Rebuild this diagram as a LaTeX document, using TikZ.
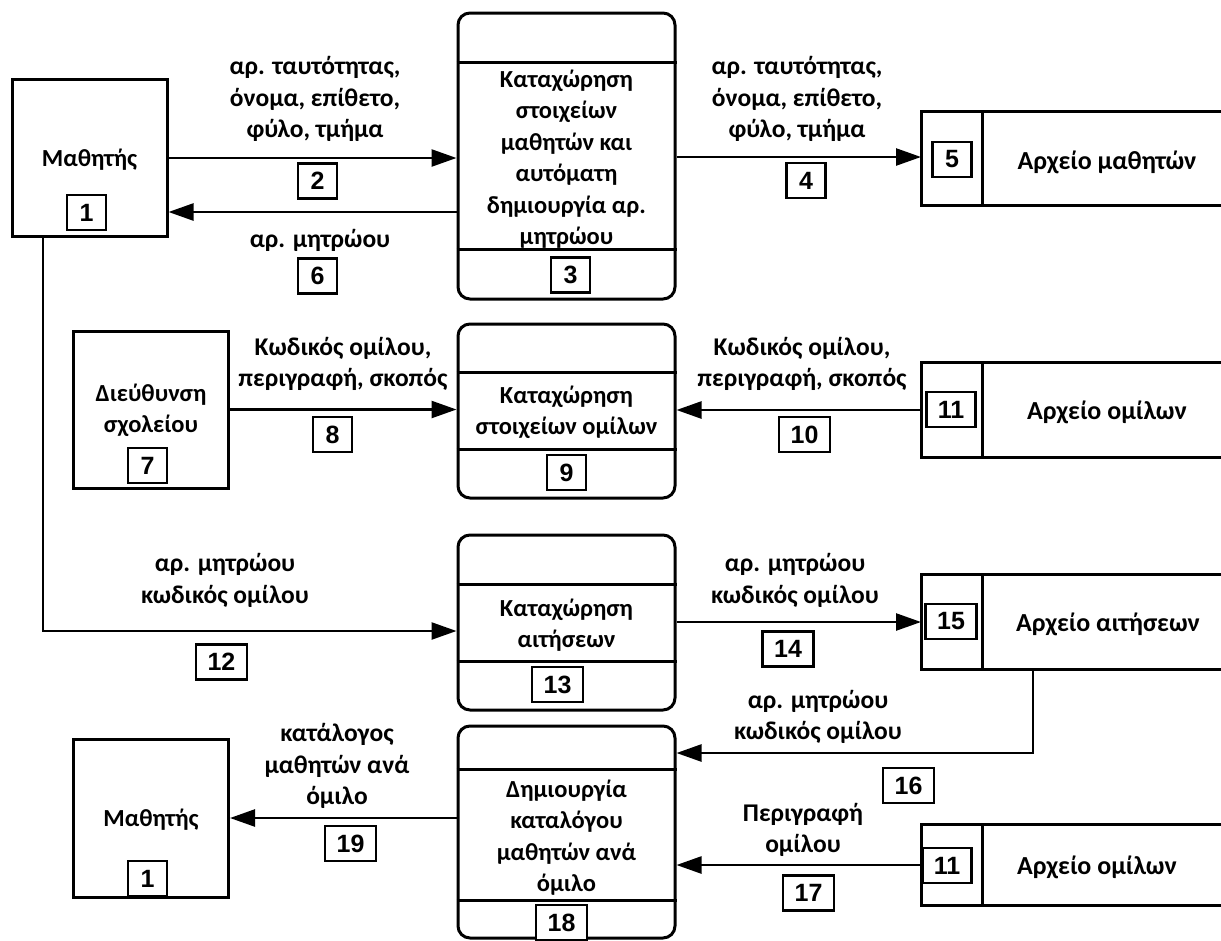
\documentclass[tikz,border=0pt]{standalone}
\usepackage{fontspec}
\setmainfont{Carlito}
\newfontfamily\numfont{Liberation Sans}
\usetikzlibrary{arrows.meta,calc}
\begin{document}
\begin{tikzpicture}[x=1pt,y=-1pt,
  ent/.style={draw,line width=3pt,minimum width=155pt,minimum height=157pt,inner sep=0pt},
  proc/.style={draw,line width=3pt,rounded corners=12pt,minimum width=217pt,inner sep=0pt},
  store/.style={minimum width=300pt,inner sep=0pt,anchor=west},
  divline/.style={line width=3pt},
  numbox/.style={draw,line width=2.5pt,font=\numfont\bfseries\fontsize{25}{25}\selectfont,minimum width=39pt,minimum height=35pt,inner xsep=11.5pt,inner ysep=0pt,fill=white},
  lbl/.style={font=\bfseries\fontsize{25.5}{31.5}\selectfont,align=center,inner sep=0pt},
  plbl/.style={font=\bfseries\fontsize{24.5}{31.5}\selectfont,align=center,inner sep=0pt},
  slbl/.style={font=\bfseries\fontsize{26}{31.5}\selectfont,align=center,inner sep=0pt},
  flow/.style={line width=2.5pt,-{Triangle[length=25pt,width=17pt]}},
  line/.style={line width=2.5pt}
]
\useasboundingbox (0,0) rectangle (1221,940);

% external entities
\node[ent] (e1) at (89.5,158) {};
\node[plbl] (t1) at (89.5,160) {Μαθητής};
\node[numbox] (n1) at (86.5,212.5) {1};

\node[ent] (e7) at (151,409.5) {};
\node[plbl] (t7) at (151,410.5) {Διεύθυνση\\σχολείου};
\node[numbox] (n7) at (147.5,465.5) {7};

\node[ent,minimum height=158pt] (e1b) at (151,818) {};
\node[plbl] (t1b) at (151,820) {Μαθητής};
\node[numbox] (n1b) at (147.5,878.5) {1};

% processes
\node[proc,minimum height=286pt] (p3) at (566.5,156) {};
\draw[divline] (p3.west |- 0,62) -- (p3.east |- 0,62);
\draw[divline] (p3.west |- 0,249) -- (p3.east |- 0,249);
\node[plbl] (t3) at (566.5,159) {Καταχώρηση\\στοιχείων\\μαθητών και\\αυτόματη\\δημιουργία αρ.\\μητρώου};
\node[numbox] (n3) at (570.5,275) {3};

\node[proc,minimum height=174pt] (p9) at (566.5,411) {};
\draw[divline] (p9.west |- 0,372) -- (p9.east |- 0,372);
\draw[divline] (p9.west |- 0,449) -- (p9.east |- 0,449);
\node[plbl] (t9) at (566.5,412.5) {Καταχώρηση\\στοιχείων ομίλων};
\node[numbox] (n9) at (566.5,472.5) {9};

\node[proc,minimum height=175pt] (p13) at (566.5,622.5) {};
\draw[divline] (p13.west |- 0,584) -- (p13.east |- 0,584);
\draw[divline] (p13.west |- 0,661) -- (p13.east |- 0,661);
\node[plbl] (t13) at (566.5,625) {Καταχώρηση\\αιτήσεων};
\node[numbox] (n13) at (557.5,684.5) {13};

\node[proc,minimum height=212pt] (p18) at (566.5,832) {};
\draw[divline] (p18.west |- 0,769) -- (p18.east |- 0,769);
\draw[divline] (p18.west |- 0,900) -- (p18.east |- 0,900);
\node[plbl] (t18) at (566.5,837.5) {Δημιουργία\\καταλόγου\\μαθητών ανά\\όμιλο};
\node[numbox] (n18) at (561.5,922.5) {18};

% data stores
\foreach \nm/\yc/\h in {s5/158.5/93, s11/410/94, s15/622/94, s11b/865/80} {
  \node[store,minimum height=\h pt] (\nm) at (921,\yc) {};
  \draw[divline] (\nm.north east) -- (\nm.north west) -- (\nm.south west) -- (\nm.south east);
  \draw[divline] (\nm.north west) ++(61,0) coordinate (\nm d) -- (\nm d |- \nm.south);
}
\node[numbox] (n5) at (952,159.5) {5};
\node[slbl] (ts5) at (1107,162) {Αρχείο μαθητών};
\node[numbox] (n11) at (951,409.5) {11};
\node[slbl] (ts11) at (1107,412) {Αρχείο ομίλων};
\node[numbox] (n15) at (951,621.5) {15};
\node[slbl] (ts15) at (1108,624) {Αρχείο αιτήσεων};
\node[numbox] (n11b) at (947,865.5) {11};
\node[slbl] (ts11b) at (1097,867) {Αρχείο ομίλων};

% flows
\draw[flow] (e1.east) -- (e1.east -| p3.west);
\node[lbl] (l2) at (315,99) {αρ. ταυτότητας,\\όνομα, επίθετο,\\φύλο, τμήμα};
\node[numbox] (n2) at (317.5,181) {2};

\coordinate (c6) at ($(p3.west)+(0,56)$);
\draw[flow] (c6) -- (c6 -| e1.east);
\node[lbl] (l6) at (320,240) {αρ. μητρώου};
\node[numbox] (n6) at (317.5,276) {6};

\draw[flow] (p3.east |- s5.west) ++(0,-1.5) coordinate (c4) -- (c4 -| s5.west);
\node[lbl] (l4) at (797,99) {αρ. ταυτότητας,\\όνομα, επίθετο,\\φύλο, τμήμα};
\node[numbox] (n4) at (806,180.5) {4};

\draw[flow] (e7.east) -- (e7.east -| p9.west);
\node[lbl] (l8) at (343,364) {Κωδικός ομίλου,\\περιγραφή, σκοπός};
\node[numbox] (n8) at (332.5,434.5) {8};

\draw[flow] (s11.west) -- (s11.west -| p9.east);
\node[lbl] (l10) at (802,364) {Κωδικός ομίλου,\\περιγραφή, σκοπός};
\node[numbox] (n10) at (804.5,434.5) {10};

\coordinate (c12) at ($(p13.west)+(0,8.5)$);
\draw[flow] (e1.south -| 43,0) |- (c12);
\node[lbl] (l12) at (225,580.5) {αρ. μητρώου\\κωδικός ομίλου};
\node[numbox] (n12) at (221.5,662) {12};

\draw[flow] (p13.east |- s15.west) -- (s15.west);
\node[lbl] (l14) at (795,580.5) {αρ. μητρώου\\κωδικός ομίλου};
\node[numbox] (n14) at (788,649) {14};

\coordinate (c16) at ($(p18.east)+(0,-79)$);
\draw[flow] (s15.south -| 1033,0) |- (c16);
\node[lbl] (l16) at (818,717) {αρ. μητρώου\\κωδικός ομίλου};
\node[numbox] (n16) at (908.5,785.5) {16};

\draw[flow] (s11b.west) -- (s11b.west -| p18.east);
\node[lbl] (l17) at (803,830) {Περιγραφή\\ομίλου};
\node[numbox] (n17) at (808.5,893) {17};

\draw[flow] (p18.west |- e1b.east) -- (e1b.east);
\node[lbl] (l19) at (337,766) {κατάλογος\\μαθητών ανά\\όμιλο};
\node[numbox] (n19) at (350.5,843.5) {19};
\end{tikzpicture}
\end{document}
